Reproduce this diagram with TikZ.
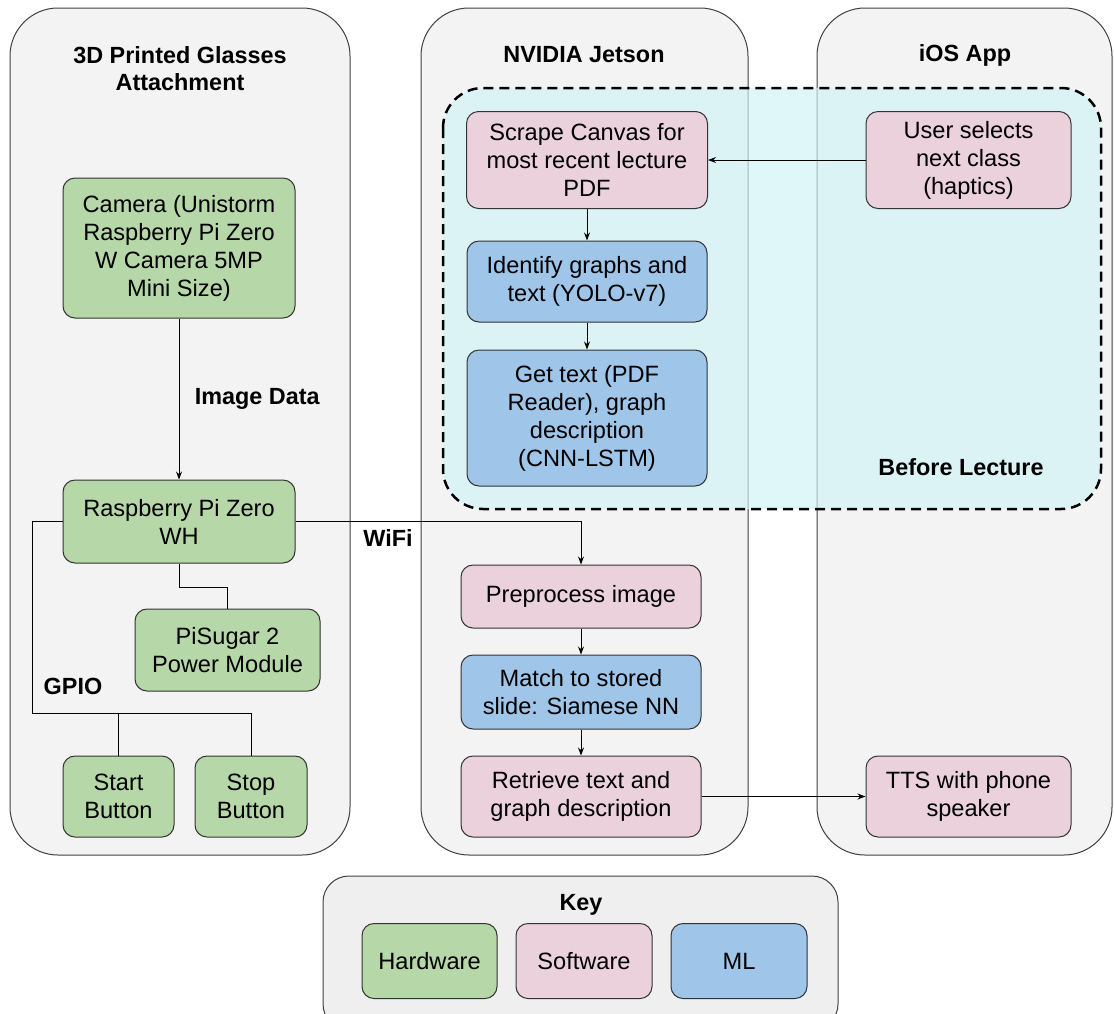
\documentclass[tikz,border=0pt]{standalone}
\usepackage{fontspec}
\setmainfont{Liberation Sans}
\usetikzlibrary{arrows.meta}
\definecolor{hwgreen}{HTML}{B6D7A8}
\definecolor{swpink}{HTML}{EAD1DC}
\definecolor{mlblue}{HTML}{9FC5E8}
\definecolor{panelgray}{HTML}{F3F3F3}
\definecolor{keygray}{HTML}{EFEFEF}
\definecolor{lecturecyan}{RGB}{209,243,248}

\begin{document}
\begin{tikzpicture}[x=1pt, y=-1pt,
		font=\fontsize{23.6}{28}\selectfont,
		panel/.style={draw=black!75, fill=panelgray, line width=1pt, rounded corners=48pt},
		box/.style={draw=black!80, line width=1pt, rounded corners=12pt, align=center, inner sep=0pt},
		hw/.style={box, fill=hwgreen},
		sw/.style={box, fill=swpink},
		ml/.style={box, fill=mlblue},
		title/.style={font=\fontsize{23.4}{27}\selectfont\bfseries, align=center},
		wire/.style={line width=1pt},
		arr/.style={wire, -{Stealth[length=8pt, width=6pt]}}]
			\useasboundingbox (0,0) rectangle (1114,1013);
			\clip (0,0) rectangle (1114,1013);
			
			% Panels
			\draw[panel] (10,8) rectangle (350,855);    % Glasses
			\draw[panel] (421,8) rectangle (748,855);   % Jetson
			\draw[panel] (817,8) rectangle (1112,855);  % iOS app
			\draw[panel, fill=keygray, rounded corners=26pt] (323,876) rectangle (838,1030); % Key
			\draw[dashed, line width=2.5pt, dash pattern=on 10pt off 6pt, fill=lecturecyan, fill opacity=0.67, rounded corners=40pt] (443,88) rectangle (1101,509);
			
			% Titles
			\node[title] (glasses) at (180,68.5) {3D Printed Glasses\\Attachment};
			\node[title] (jetson) at (584,55) {NVIDIA Jetson};
			\node[title] (ios) at (965,55) {iOS App};
			\node[title] (key) at (581,905) {Key};
			\node[title] (before) at (961,467) {Before Lecture};
			
			% Define nodes
			\node[hw, minimum width=232pt, minimum height=140pt] (camera) at (179,248) {Camera (Unistorm\\Raspberry Pi Zero\\W Camera 5MP\\Mini Size)};
			\node[hw, minimum width=232pt, minimum height=83pt] (pi) at (179,521.5) {Raspberry Pi Zero\\WH};
			\node[hw, minimum width=185pt, minimum height=82pt] (pisugar) at (227.5,650) {PiSugar 2\\Power Module};
			\node[hw, minimum width=111pt, minimum height=81pt] (start) at (118.5,796.5) {Start\\Button};
			\node[hw, minimum width=112pt, minimum height=81pt] (stop) at (251,796.5) {Stop\\Button};
			
			\node[sw, minimum width=241pt, minimum height=97pt] (scrape) at (587,160) {Scrape Canvas for\\most recent lecture\\PDF};
			\node[ml, minimum width=240pt, minimum height=81pt] (identify) at (587,281.5) {Identify graphs and\\text (YOLO-v7)};
			\node[ml, minimum width=240pt, minimum height=136pt] (gettext) at (587,418) {Get text (PDF\\Reader), graph\\description\\(CNN-LSTM)};
			\node[sw, minimum width=205pt, minimum height=97pt] (user) at (968.5,160) {User selects\\next class\\(haptics)};
			
			\node[sw, minimum width=240pt, minimum height=63pt] (preprocess) at (581,596.5) {Preprocess image};
			\node[ml, minimum width=240pt, minimum height=74pt] (match) at (581,692) {Match to stored\\slide: Siamese NN};
			\node[sw, minimum width=240pt, minimum height=81pt] (retrieve) at (581,796.5) {Retrieve text and\\graph description};
			\node[sw, minimum width=205pt, minimum height=81pt] (tts) at (968.5,796.5) {TTS with phone\\speaker};
			
			\node[hw, minimum width=135pt, minimum height=75pt] (hardware) at (429.5,961) {Hardware};
			\node[sw, minimum width=136pt, minimum height=75pt] (software) at (584,961) {Software};
			\node[ml, minimum width=136pt, minimum height=75pt] (mlkey) at (739,961) {ML};
			
			% Connect nodes
			\coordinate (gpio) at (32,713);
			\draw[arr] (camera) -- (pi) node[title, pos=0.5, right=12pt] (imgdata) {Image Data};
			\draw[wire] (pi.south) -- ++(0,24) -| (pisugar.north);
			\draw[wire] (pi.west) -| (gpio) -| (stop.north);
			\draw[wire] (start.north) -- (start.north |- gpio);
			\draw[arr] (pi.east) -| (preprocess.north);
			\draw[arr] (user.west) -- (scrape.east);
			\draw[arr] (scrape) -- (identify);
			\draw[arr] (identify) -- (gettext);
			\draw[arr] (preprocess) -- (match);
			\draw[arr] (match) -- (retrieve);
			\draw[arr] (retrieve) -- (tts);
			
			% Link labels
			\node[title] (wifi) at (388,538) {WiFi};
			\node[title] (gpiolabel) at (73,686) {GPIO};
		\end{tikzpicture}
\end{document}
